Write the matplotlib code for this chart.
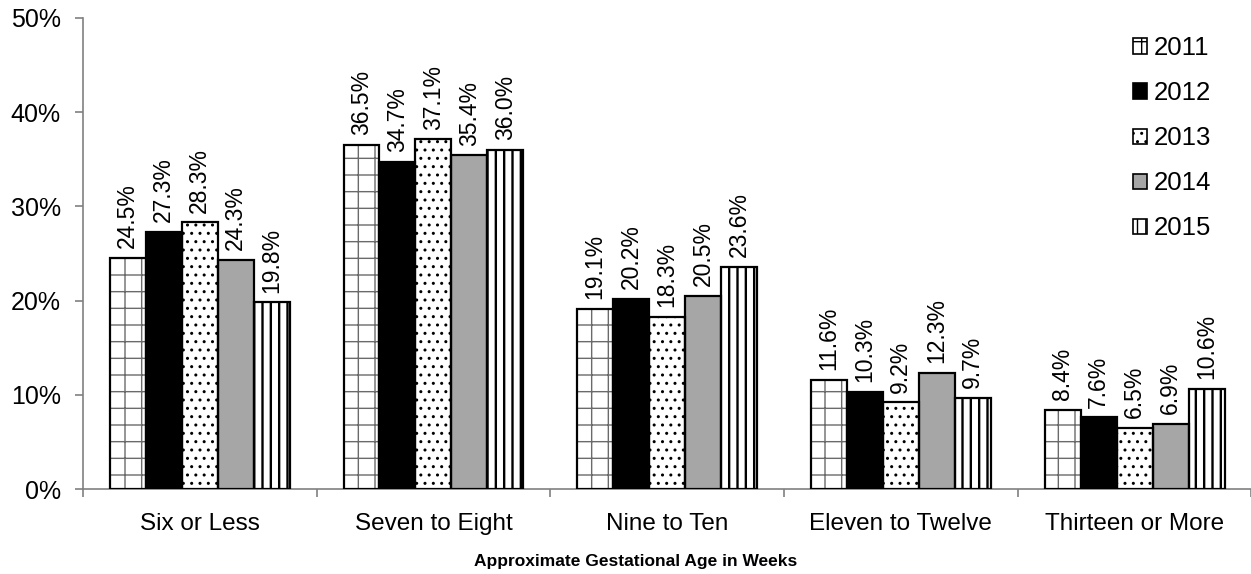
import numpy as np
import matplotlib
matplotlib.use('Agg')
import matplotlib.pyplot as plt
from matplotlib.ticker import PercentFormatter

plt.rcParams['font.family'] = ['Liberation Sans', 'DejaVu Sans']

# data (percent)
categories = ['Six or Less', 'Seven to Eight', 'Nine to Ten', 'Eleven to Twelve', 'Thirteen or More']
years = ['2011', '2012', '2013', '2014', '2015']
v2011 = [24.5, 36.5, 19.1, 11.6, 8.4]
v2012 = [27.3, 34.7, 20.2, 10.3, 7.6]
v2013 = [28.3, 37.1, 18.3, 9.2, 6.5]
v2014 = [24.3, 35.4, 20.5, 12.3, 6.9]
v2015 = [19.8, 36.0, 23.6, 9.7, 10.6]

series = [v2011, v2012, v2013, v2014, v2015]
colors = ['white', 'black', 'white', '#a6a6a6', 'white']
hatches = ['+', None, '..', None, '||']
hatch_cols = ['#6a6a6a', 'black', 'black', 'black', 'black']
hatch_lws = [1.0, 1.0, 1.0, 1.0, 1.7]

fig = plt.figure(figsize=(12.51, 5.74), dpi=100)
ax = fig.add_axes([0.0663, 0.148, 0.934, 0.821])

x = np.arange(len(categories))
w = 0.154
for i, (vals, c, h) in enumerate(zip(series, colors, hatches)):
    pos = x + (i - 2) * w
    with plt.rc_context({'hatch.linewidth': hatch_lws[i]}):
        # fill + hatch first, then a black outline on top
        ax.bar(pos, vals, w, color=c, edgecolor=hatch_cols[i], hatch=h,
               linewidth=0, zorder=2)
        # legend proxy
        ax.bar([0], [0], 0, color=c, edgecolor='black', hatch=h, linewidth=1.2,
               label=years[i])
    bars = ax.bar(pos, vals, w, fill=False, edgecolor='black',
                  linewidth=1.6, zorder=3)
    for b, v in zip(bars, vals):
        ax.annotate(f'{v:.1f}%', (b.get_x() + b.get_width() / 2, v),
                    xytext=(0, 7), textcoords='offset points',
                    rotation=90, ha='center', va='bottom', fontsize=16.5)

ax.set_xlim(-0.5, 4.5)
ax.set_ylim(0, 50)
ax.set_yticks(np.arange(0, 51, 10))
ax.yaxis.set_major_formatter(PercentFormatter(decimals=0))
ax.set_xticks(x)
ax.set_xticklabels(categories, fontsize=17.5)
ax.set_xticks(np.arange(-0.5, 4.6, 1), minor=True)
ax.tick_params(axis='x', which='major', length=0, pad=17)
ax.tick_params(axis='x', which='minor', length=6, color='#808080', width=1.2)
ax.tick_params(axis='y', labelsize=18, length=6, color='#808080', width=1.2, pad=10)

for s in ['top', 'right']:
    ax.spines[s].set_visible(False)
for s in ['left', 'bottom']:
    ax.spines[s].set_color('#808080')
    ax.spines[s].set_linewidth(1.2)

fig.text(0.508, 0.021, 'Approximate Gestational Age in Weeks', fontsize=12.5,
         fontweight='bold', ha='center', va='center')

leg = ax.legend(loc='upper right', bbox_to_anchor=(0.985, 1.01), frameon=False,
                fontsize=18.5, handlelength=0.55, handleheight=0.55, handletextpad=0.25,
                labelspacing=0.82)

fig.savefig('out.png', dpi=100)
